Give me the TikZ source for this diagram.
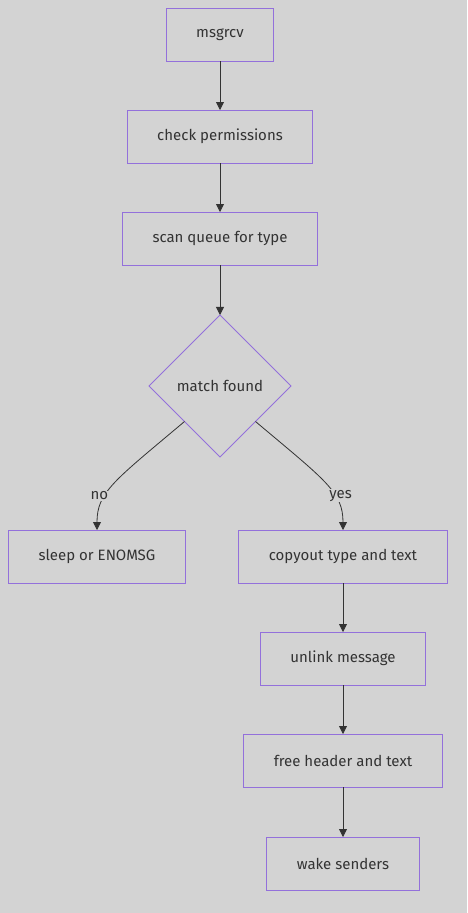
\documentclass[tikz,border=0pt]{standalone}
\usepackage{fontspec}
\setmainfont{Fira Sans}
\usepackage{tikz}
\usetikzlibrary{shapes.geometric, positioning, arrows.meta}
\definecolor{bgray}{HTML}{D3D3D3}
\definecolor{nodeline}{HTML}{9370DB}
\definecolor{ink}{HTML}{333333}
\tikzstyle{process} = [rectangle, minimum height=53pt, inner xsep=30pt, outer sep=0pt, line width=1pt, text centered, draw=nodeline, fill=bgray, text=ink]
\tikzstyle{decision} = [diamond, aspect=1, minimum width=142pt, minimum height=142pt, inner sep=0pt, outer sep=0pt, line width=0.8pt, text centered, draw=nodeline, fill=bgray, text=ink]
\tikzstyle{arrow} = [draw=ink, line width=0.8pt, -{Triangle[width=8pt,length=8pt]}]
\tikzstyle{edgetext} = [fill=bgray, text=ink, inner sep=1pt]

\begin{document}
\begin{tikzpicture}[node distance=49pt, font=\fontsize{15}{18}\selectfont]
\fill [bgray] (0,0) rectangle (467pt,-913pt);
\useasboundingbox (0,0) rectangle (467pt,-913pt);

\node (msgrcv) [process] at (220pt,-34.5pt) {msgrcv};
\node (check) [process, below=of msgrcv] {check permissions};
\node (scan) [process, below=of check] {scan queue for type};
\node (match) [decision, below=50pt of scan] {match found};

\node (sleep) [process, below=73pt of match, xshift=-123pt] {sleep or ENOMSG};
\node (copyout) [process, below=73pt of match, xshift=123pt] {copyout type and text};
\node (unlink) [process, below=of copyout] {unlink message};
\node (free) [process, below=of unlink] {free header and text};
\node (wake) [process, below=50pt of free] {wake senders};

\draw [arrow] (msgrcv) -- (check);
\draw [arrow] (check) -- (scan);
\draw [arrow] (scan) -- (match);

% branches out of the diamond
\draw [arrow] (match.south west) .. controls +(-70pt,-59pt) and +(0,38pt) .. (sleep.north) node[edgetext, pos=0.64, xshift=-6pt] {no};
\draw [arrow] (match.south east) .. controls +(70pt,-59pt) and +(0,38pt) .. (copyout.north) node[edgetext, pos=0.64, xshift=6pt] {yes};

\draw [arrow] (copyout) -- (unlink);
\draw [arrow] (unlink) -- (free);
\draw [arrow] (free) -- (wake);

\end{tikzpicture}
\end{document}
